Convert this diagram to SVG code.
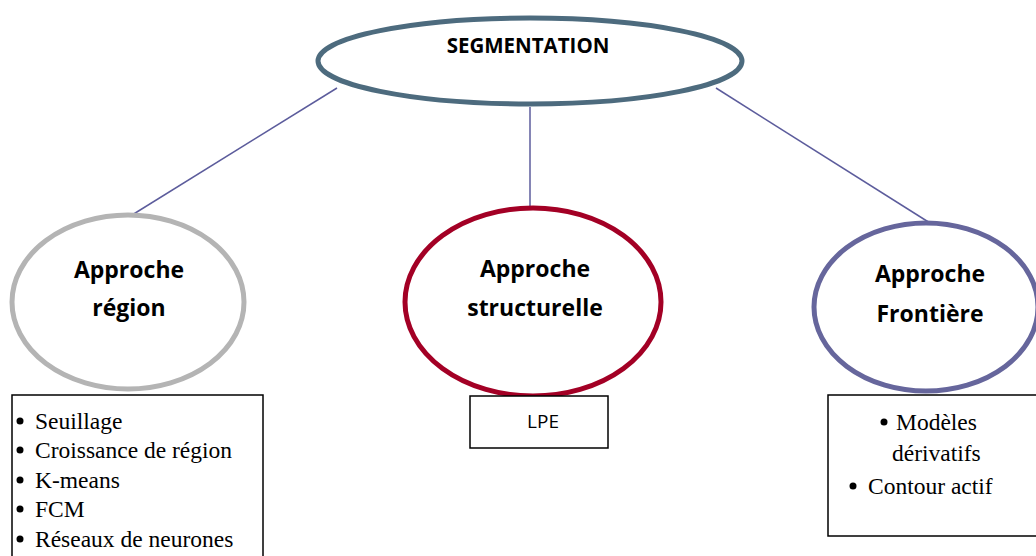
<svg xmlns="http://www.w3.org/2000/svg" width="1036" height="556" viewBox="0 0 1036 556">
<style>
.ttl{font-family:"Open Sans","Liberation Sans",sans-serif;font-weight:bold;fill:#000;text-anchor:middle}
.lst{font-family:"Liberation Serif",serif;font-size:23.5px;fill:#000}
.box{fill:#fff;stroke:#000;stroke-width:1.5}
.conn{stroke:#5c5c9c;stroke-width:1.5;fill:none}
.bul{fill:#000}
</style>
<rect width="1036" height="556" fill="#fff"/>
<g id="connectors">
<line class="conn" x1="337" y1="88" x2="124" y2="220"/>
<line class="conn" x1="530" y1="107" x2="530" y2="208"/>
<line class="conn" x1="716" y1="88" x2="930" y2="223"/>
</g>
<g id="segmentation">
<ellipse cx="530" cy="61" rx="212" ry="43" fill="#fff" stroke="#4d6b7e" stroke-width="5"/>
<text class="ttl" x="528" y="53" font-size="20.5">SEGMENTATION</text>
</g>
<g id="approche-region">
<ellipse cx="128" cy="302" rx="116" ry="87" fill="#fff" stroke="#b4b4b4" stroke-width="5"/>
<text class="ttl" x="129" y="278" font-size="23">Approche</text>
<text class="ttl" x="129" y="316" font-size="23">région</text>
</g>
<g id="approche-structurelle">
<ellipse cx="533" cy="302" rx="128" ry="94" fill="#fff" stroke="#a30025" stroke-width="5"/>
<text class="ttl" x="535" y="277" font-size="23">Approche</text>
<text class="ttl" x="535" y="316" font-size="23">structurelle</text>
</g>
<g id="approche-frontiere">
<ellipse cx="926" cy="307" rx="112" ry="84" fill="#fff" stroke="#66669c" stroke-width="5"/>
<text class="ttl" x="930" y="282" font-size="23">Approche</text>
<text class="ttl" x="930" y="322" font-size="23">Frontière</text>
</g>
<g id="liste-region">
<rect class="box" x="12" y="395" width="251" height="170"/>
<circle class="bul" cx="20" cy="421" r="3.5"/>
<circle class="bul" cx="20" cy="450" r="3.5"/>
<circle class="bul" cx="20" cy="480" r="3.5"/>
<circle class="bul" cx="20" cy="509" r="3.5"/>
<circle class="bul" cx="20" cy="539" r="3.5"/>
<text class="lst" x="35" y="429">Seuillage</text>
<text class="lst" x="35" y="458">Croissance de région</text>
<text class="lst" x="35" y="488">K-means</text>
<text class="lst" x="35" y="517">FCM</text>
<text class="lst" x="35" y="547">Réseaux de neurones</text>
</g>
<g id="lpe">
<rect class="box" x="470" y="396" width="138" height="52"/>
<text x="543" y="428" font-family="Open Sans, Liberation Sans, sans-serif" font-size="19" text-anchor="middle">LPE</text>
</g>
<g id="liste-frontiere">
<rect class="box" x="828" y="395" width="220" height="141"/>
<circle class="bul" cx="884" cy="422" r="3.5"/>
<circle class="bul" cx="853" cy="486" r="3.5"/>
<text class="lst" x="896" y="430">Modèles</text>
<text class="lst" x="892" y="461">dérivatifs</text>
<text class="lst" x="868" y="494">Contour actif</text>
</g>
</svg>
